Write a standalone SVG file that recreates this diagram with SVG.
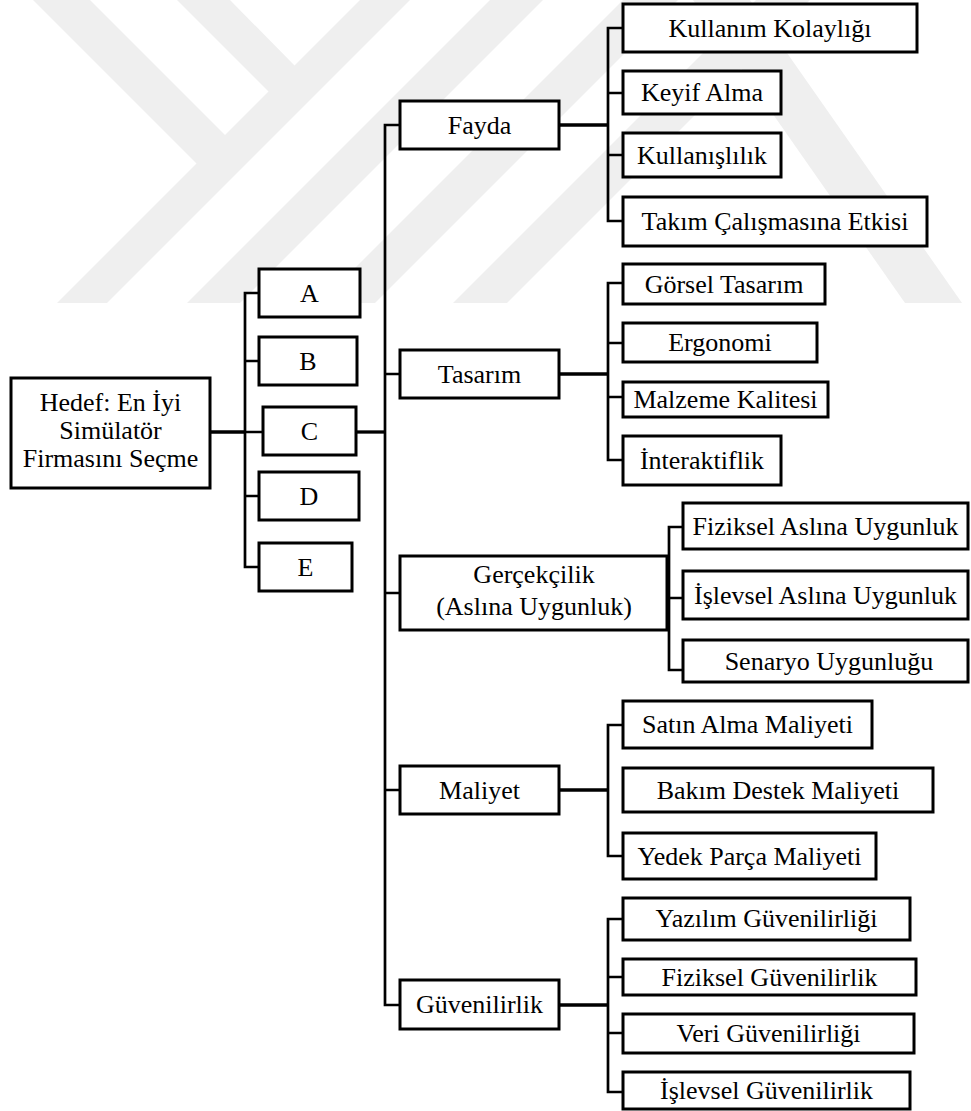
<svg xmlns="http://www.w3.org/2000/svg" width="971" height="1111" viewBox="0 0 971 1111">
<style>
.bx{fill:#fff;stroke:#000;stroke-width:3}
.t{font-size:26px;fill:#000;text-anchor:middle}
.c{fill:none;stroke:#000;stroke-width:2.7}
.ct{fill:none;stroke:#000;stroke-width:3.3}
.wm{fill:#efefef}
</style>
<rect width="971" height="1111" fill="#fff"/>
<g id="watermark">
<polygon class="wm" points="33,0 90,0 226,136 198,165"/>
<polygon class="wm" points="177,0 230,0 296,67 270,93"/>
<polygon class="wm" points="360,0 410,0 107,303 57,303"/>
<polygon class="wm" points="490,0 543,0 240,303 187,303"/>
<polygon class="wm" points="623,0 678,0 375,303 320,303"/>
<polygon class="wm" points="756,0 810,0 507,303 453,303"/>
<polygon class="wm" points="693,0 750,0 962,303 905,303"/>
</g>
<g id="connectors">
<path class="ct" d="M210,432 H245"/>
<path class="c" d="M259,293 H245 V567 H259 M245,361 H259 M245,432 H263 M245,496 H259"/>
<path class="ct" d="M356,432 H385"/>
<path class="c" d="M400,125 H385 V1005 H400 M385,374 H400 M385,593 H400 M385,790 H400"/>
<path class="ct" d="M559,125 H608"/>
<path class="c" d="M623,28 H608 V221 H623 M608,93 H623 M608,155 H623"/>
<path class="ct" d="M559,374 H608"/>
<path class="c" d="M623,283 H608 V460 H623 M608,343 H623 M608,397 H623"/>
<path class="c" d="M683,527 H669 V670 H683 M669,598 H683"/>
<path class="ct" d="M559,790 H608"/>
<path class="c" d="M623,725 H608 V856 H623"/>
<path class="ct" d="M559,1005 H608"/>
<path class="c" d="M623,919 H608 V1092 H623 M608,977 H623 M608,1033 H623"/>
</g>
<g id="nodes" font-family="Liberation Serif, Times New Roman, serif">
<g id="goal"><rect class="bx" x="11" y="378" width="199" height="110"/><text class="t" x="110.5" y="411">Hedef: En İyi</text><text class="t" x="110.5" y="439">Simülatör</text><text class="t" x="110.5" y="467">Firmasını Seçme</text></g>
<g id="alt-a"><rect class="bx" x="259" y="269" width="101" height="48"/><text class="t" x="309.5" y="301.5">A</text></g>
<g id="alt-b"><rect class="bx" x="259" y="337" width="98" height="48"/><text class="t" x="308" y="369.5">B</text></g>
<g id="alt-c"><rect class="bx" x="263" y="407" width="93" height="48"/><text class="t" x="309.5" y="439.5">C</text></g>
<g id="alt-d"><rect class="bx" x="259" y="472" width="100" height="48"/><text class="t" x="309" y="504.5">D</text></g>
<g id="alt-e"><rect class="bx" x="259" y="543" width="93" height="48"/><text class="t" x="305.5" y="575.5">E</text></g>
<g id="fayda"><rect class="bx" x="400" y="101" width="159" height="48"/><text class="t" x="479.5" y="133.5">Fayda</text></g>
<g id="tasarim"><rect class="bx" x="400" y="350" width="159" height="48"/><text class="t" x="479.5" y="382.5">Tasarım</text></g>
<g id="gercekcilik"><rect class="bx" x="400" y="556" width="267" height="74"/><text class="t" x="534" y="583">Gerçekçilik</text><text class="t" x="534" y="615">(Aslına Uygunluk)</text></g>
<g id="maliyet"><rect class="bx" x="400" y="766" width="159" height="48"/><text class="t" x="479.5" y="798.5">Maliyet</text></g>
<g id="guvenilirlik"><rect class="bx" x="400" y="980" width="159" height="49"/><text class="t" x="479.5" y="1013">Güvenilirlik</text></g>
<g id="kullanim-kolayligi"><rect class="bx" x="623" y="4" width="294" height="48"/><text class="t" x="770" y="36.5">Kullanım Kolaylığı</text></g>
<g id="keyif-alma"><rect class="bx" x="623" y="71" width="158" height="43"/><text class="t" x="702" y="101">Keyif Alma</text></g>
<g id="kullanislilik"><rect class="bx" x="623" y="133" width="158" height="44"/><text class="t" x="702" y="163.5">Kullanışlılık</text></g>
<g id="takim"><rect class="bx" x="623" y="197" width="304" height="49"/><text class="t" x="775" y="230">Takım Çalışmasına Etkisi</text></g>
<g id="gorsel-tasarim"><rect class="bx" x="623" y="264" width="202" height="40"/><text class="t" x="724" y="292.5">Görsel Tasarım</text></g>
<g id="ergonomi"><rect class="bx" x="623" y="323" width="194" height="39"/><text class="t" x="720" y="351">Ergonomi</text></g>
<g id="malzeme"><rect class="bx" x="623" y="382" width="205" height="35"/><text class="t" x="725.5" y="408">Malzeme Kalitesi</text></g>
<g id="interaktiflik"><rect class="bx" x="623" y="436" width="158" height="49"/><text class="t" x="702" y="469">İnteraktiflik</text></g>
<g id="fiziksel-aslina"><rect class="bx" x="683" y="503" width="285" height="46"/><text class="t" x="825.5" y="534.5">Fiziksel Aslına Uygunluk</text></g>
<g id="islevsel-aslina"><rect class="bx" x="683" y="571" width="285" height="48"/><text class="t" x="825.5" y="603.5">İşlevsel Aslına Uygunluk</text></g>
<g id="senaryo"><rect class="bx" x="683" y="640" width="285" height="42"/><text class="t" x="829" y="669.5">Senaryo Uygunluğu</text></g>
<g id="satin-alma"><rect class="bx" x="623" y="701" width="249" height="47"/><text class="t" x="747.5" y="733">Satın Alma Maliyeti</text></g>
<g id="bakim"><rect class="bx" x="623" y="768" width="310" height="44"/><text class="t" x="778" y="798.5">Bakım Destek Maliyeti</text></g>
<g id="yedek"><rect class="bx" x="623" y="833" width="253" height="46"/><text class="t" x="749.5" y="864.5">Yedek Parça Maliyeti</text></g>
<g id="yazilim"><rect class="bx" x="623" y="898" width="287" height="42"/><text class="t" x="766.5" y="926.5">Yazılım Güvenilirliği</text></g>
<g id="fiziksel-guv"><rect class="bx" x="623" y="959" width="293" height="36"/><text class="t" x="769.5" y="985.5">Fiziksel Güvenilirlik</text></g>
<g id="veri"><rect class="bx" x="623" y="1014" width="291" height="39"/><text class="t" x="768.5" y="1042">Veri Güvenilirliği</text></g>
<g id="islevsel-guv"><rect class="bx" x="623" y="1072" width="287" height="37"/><text class="t" x="766.5" y="1099">İşlevsel Güvenilirlik</text></g>
</g>
</svg>
